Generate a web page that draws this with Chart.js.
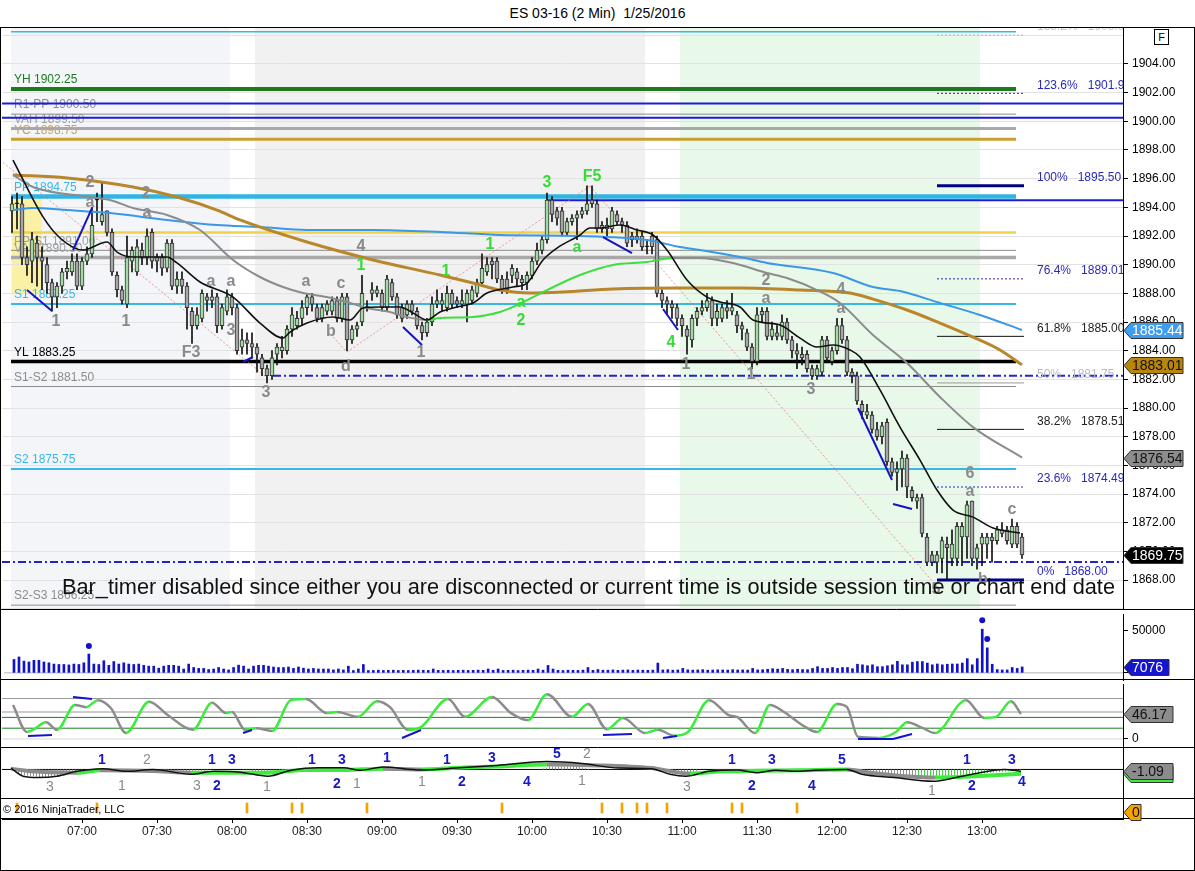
<!DOCTYPE html>
<html>
<head>
<meta charset="utf-8">
<title>ES 03-16 (2 Min) 1/25/2016</title>
<script src="https://cdn.jsdelivr.net/npm/chart.js"></script>
<style>
  body { margin: 0; background: #fff; font-family: Arial, "Liberation Sans", sans-serif; }
  #wrap { position: relative; width: 1195px; height: 871px; overflow: hidden; }
  #title { position: absolute; top: 5px; left: 0; width: 1195px; text-align: center; font-size: 14px; color: #000; }
  #frame { position: absolute; left: 0; top: 27px; width: 1193px; height: 842px; border: 1px solid #000; }
  #fbox { position: absolute; left: 1154px; top: 29px; width: 13px; height: 14px; border: 1px solid #000; font-size: 11px; text-align: center; line-height: 14px; background: #fff; }
  canvas { position: absolute; left: 0; }
</style>
</head>
<body>
<div id="wrap">
  <div id="title">ES 03-16 (2 Min)&nbsp; 1/25/2016</div>
  <div id="frame"></div>
  <canvas id="priceChart" width="1195" height="582" style="top:28px"></canvas>
  <canvas id="volChart" width="1195" height="74" style="top:610px"></canvas>
  <canvas id="oscChart" width="1195" height="64" style="top:684px"></canvas>
  <canvas id="macdChart" width="1195" height="51" style="top:748px"></canvas>
  <canvas id="stripChart" width="1195" height="71" style="top:799px"></canvas>
  <div id="fbox">F</div>
</div>

<script>
// 2-minute bars, times are minutes after midnight (first bar 06:32)
var firstBarMinute = 392;

var opens = [1893.75,1894.25,1894.25,1890.5,1890.25,1891.5,1890.5,1890,1888.75,1887.75,
  1888.5,1889.5,1889.5,1890.25,1888.5,1890.25,1890.75,1894.5,1893,1893.75,
  1892.25,1889.25,1888.25,1887.25,1890.25,1889.5,1891,1890.5,1892.25,1890.5,
  1890.5,1889.75,1891.5,1888.5,1889,1888.5,1886.75,1885.75,1886.25,1887.75,
  1887.5,1887.75,1885.75,1886.75,1887.75,1887,1884.25,1884.75,1884.5,1884.25,
  1883.5,1882.75,1882.25,1883.75,1884,1884,1885.5,1885.75,1886.25,1887,
  1887.75,1887,1886.25,1886.75,1886.75,1887.5,1886.25,1887.75,1884.75,1885.5,
  1886,1887,1888,1888,1888,1887,1888.75,1887.75,1887,1886.5,
  1887.25,1886.75,1885.75,1885.25,1886,1887.25,1887.25,1887,1888,1887.5,
  1887.25,1887.25,1887.5,1888,1888.75,1889.5,1890.25,1890.25,1889,1889,
  1889.25,1889.5,1889,1888.75,1889.25,1890.25,1891,1891.75,1894.5,1893.75,
  1893.75,1892.25,1893,1893.25,1893.5,1893.75,1894.5,1894.25,1892.75,1892.5,
  1892.5,1893.5,1893,1892.75,1892,1892,1892,1891.25,1892,1891.75,
  1888,1887.5,1887.25,1887,1886.25,1885.5,1884.75,1886.25,1886.75,1887,
  1887.5,1886.25,1886.25,1887,1886.75,1886.5,1885.75,1885.25,1884.25,1883.25,
  1886.75,1886.75,1885,1885.25,1885,1886,1884.75,1884,1883.75,1883.75,
  1882.75,1882.25,1882.5,1884.75,1883.25,1884,1885.75,1884.75,1882.5,1882.25,
  1880.25,1879.5,1879.5,1878.5,1878,1879,1876.25,1875.5,1875.75,1876.5,
  1874.25,1873.5,1873.75,1871,1869.75,1869.25,1869.5,1870.5,1869.5,1869.5,
  1871,1871,1873.5,1869.5,1870.5,1870.5,1871,1870.75,1871.25,1871.5,
  1870.5,1871.75,1871];
var highs = [1894.75,1895,1894.75,1891.25,1892.25,1892,1891.25,1890.5,1889,1888.75,
  1889.75,1890.25,1890.75,1890.75,1890.5,1891.25,1894,1895,1895.75,1893.75,
  1892.5,1889.5,1888.5,1892,1891.25,1891.75,1891.5,1892.5,1892.5,1890.75,
  1890.75,1891.75,1891.75,1889.5,1889.5,1888.75,1887,1887,1888.25,1888,
  1888.25,1888,1887.25,1888.25,1888,1887.25,1885.5,1885.25,1885.25,1884.5,
  1883.75,1883,1884,1884.5,1885,1885.75,1887,1886.75,1887.5,1888,
  1888,1887.25,1887.25,1887.5,1887.75,1887.75,1888,1888,1885.75,1886,
  1889.25,1887.5,1888.75,1888.5,1888.25,1889.25,1889,1888,1887.25,1887.5,
  1887.5,1887,1886,1886.25,1887.75,1888.25,1888,1888.5,1888.25,1887.75,
  1888.25,1888.25,1888.5,1889,1890.75,1890.5,1890.5,1890.5,1889.25,1889.5,
  1890,1889.75,1889.25,1889.5,1890.5,1891.5,1892,1895,1894.75,1894,
  1894,1893.25,1893.5,1893.75,1894,1895.5,1895.5,1894.5,1893,1893.25,
  1894,1893.75,1893.25,1893,1892.25,1892.5,1892.25,1891.75,1892.25,1892,
  1888.25,1887.75,1887.5,1887.25,1886.5,1885.75,1886.5,1887,1887.5,1888,
  1887.75,1887.25,1887.25,1887.5,1888,1886.75,1886,1885.5,1884.5,1887,
  1887,1887,1886,1885.75,1886.5,1886.25,1885,1884.5,1884.25,1884,
  1883,1883,1885,1885,1884.25,1886.25,1886.25,1885,1882.75,1882.5,
  1880.5,1880.25,1879.75,1879,1879,1879.25,1876.5,1876.25,1877,1876.75,
  1874.5,1874,1874,1871.25,1870,1870,1871,1871,1871.5,1872,
  1872,1873.5,1873.5,1870.5,1871.25,1871.25,1871.25,1871.75,1872,1871.75,
  1872.25,1872,1871.25];
var lows = [1892.25,1892.5,1890,1889.25,1888.75,1888.5,1888.25,1888,1886.75,1887,
  1888,1889,1889.25,1888.25,1888.25,1890,1890.5,1893,1892.75,1892,
  1889.25,1887.75,1887.25,1887,1889.5,1889.25,1890,1890,1889.75,1889.5,
  1889.25,1889.5,1888.25,1888,1888,1885.5,1884.5,1885.5,1886,1886.75,
  1887,1885.25,1885.5,1886.5,1886.5,1883.75,1883.75,1883.75,1883.5,1882.5,
  1882.25,1881.75,1882,1883,1883.5,1883.75,1885,1885.5,1885.75,1886.5,
  1886.75,1886,1886,1886.5,1886.5,1886,1886,1884,1884.5,1885,
  1885.75,1886.75,1887.5,1887.75,1886.75,1886.75,1887.5,1886.25,1886,1886.25,
  1886.5,1885.5,1884.75,1885,1885.75,1887,1886.75,1886.75,1887,1887,
  1887,1886,1887.25,1887.75,1888.5,1889.25,1889,1888.75,1888,1888,
  1888.75,1888.5,1888.25,1888.25,1889,1890,1890.75,1891.5,1893,1892.75,
  1892,1892,1892.75,1891.75,1893.25,1893.5,1894,1892.25,1892.25,1892,
  1892.25,1892.75,1892.25,1891.25,1891.25,1891.5,1891,1890.75,1890.75,1887.75,
  1887,1886.5,1886.25,1885.75,1885,1883.75,1884.25,1885.75,1886.5,1886.75,
  1885.75,1885.75,1886,1886.25,1886.5,1885.25,1884.75,1884,1882.75,1883,
  1886,1884.75,1884.75,1884.75,1884.75,1884.5,1883.5,1882.75,1883,1882.5,
  1882,1882,1882.25,1883.25,1883,1883.75,1884.5,1882.25,1881.75,1880.25,
  1879.25,1879.25,1878.25,1877.75,1877.5,1876,1875.25,1874.25,1874.5,1873.75,
  1873.5,1873,1871,1869,1869,1868.5,1868.5,1868,1869,1869,
  1869,1869.5,1869,1868.75,1869,1869.5,1869.25,1870.5,1871,1870.5,
  1870.25,1870.25,1869.5];
var closes = [1894.25,1894.25,1890.5,1890,1891.75,1890.5,1890.25,1888.75,1887.75,1888.5,
  1889.5,1889.75,1890.25,1888.5,1890.25,1890.75,1892.75,1894.5,1893.5,1892.25,
  1889.5,1888.25,1887.5,1890.5,1891,1891.25,1890.5,1892,1890.25,1890.25,
  1889.75,1891.5,1888.5,1889,1888.5,1887,1885.75,1886.5,1888,1887.5,
  1887.75,1885.75,1887,1887.75,1887,1884,1884.75,1884.5,1884.25,1883.75,
  1882.75,1882.25,1883.5,1884.25,1884.25,1885.5,1886.5,1886.25,1887,1887.75,
  1887.25,1886.25,1887,1887.25,1887.5,1886.25,1887.75,1884.75,1885.5,1885.75,
  1888,1887,1888.25,1888.25,1887,1889,1887.75,1886.5,1886.25,1887.25,
  1886.75,1885.75,1885.25,1886,1887.25,1887.5,1887.5,1888,1887.25,1887.25,
  1887.5,1888,1888.25,1888.75,1889.75,1890,1890,1889,1888.25,1888.25,
  1889.75,1889,1888.75,1889.25,1890.25,1891,1891.75,1894.5,1893.5,1893.25,
  1892.25,1893,1893.25,1893.5,1893.75,1894.25,1894.25,1892.5,1892.5,1892.75,
  1893.75,1893,1892.75,1891.5,1891.75,1891.75,1891.25,1891.25,1891.25,1888,
  1887.5,1887.25,1887,1886.25,1885.75,1885,1886.25,1886.75,1887,1887.5,
  1886.25,1886.75,1887,1886.75,1887,1885.75,1885.5,1884.25,1883.25,1886.5,
  1886.5,1885,1885.5,1885,1886,1884.75,1884,1883.75,1883.5,1882.75,
  1882.25,1882.75,1884.75,1883.5,1884,1885.75,1884.75,1882.5,1882.25,1880.5,
  1879.75,1879.75,1878.5,1878,1878.75,1876.25,1875.5,1875.75,1876.5,1874.5,
  1873.75,1873.75,1871.25,1869.25,1869.25,1869.75,1870.75,1870.25,1870.5,1871.75,
  1871.75,1873.25,1869.5,1870.25,1871,1871,1870.75,1871.5,1871.5,1870.75,
  1871.75,1870.5,1869.75];
var volumes = [16000,19000,14000,13000,15000,15000,13000,12000,10500,10000,10000,9500,10500,10000,12000,
  22500,
  10500,10000,14500,9000,13500,10500,12000,10500,10000,10500,9000,8000,8000,5600,8000,
  9000,9000,8000,4600,10500,6400,5300,5300,4000,4600,6400,4600,3500,6400,9200,
  8000,4600,8000,9000,9000,8000,7000,6400,6400,7000,5300,7000,5600,
  4600,5300,4600,4600,4600,3500,4600,3500,8000,2800,4600,10000,2800,
  2900,3200,2900,3000,3200,2900,3000,2800,3000,3300,
  3000,2900,4600,3000,2900,3100,2800,3000,3200,2900,
  3000,3300,3000,4600,3000,4600,2900,3000,3200,2800,
  3000,3300,3000,4600,3200,8900,4600,3000,2800,3200,
  3000,2900,3300,6400,3000,4000,3200,
  3200,3500,3000,3300,3500,3000,3400,3200,3000,3300,
  11700,
  3500,3800,3200,3500,5300,3600,3300,3500,3800,3200,3400,3600,3500,3300,3800,3400,3500,3300,
  5300,
  3500,3800,4300,5000,4500,5300,4200,3800,4300,4000,3800,
  5300,7400,5300,5300,6400,5300,6400,6400,5000,
  10300,9600,8500,9600,7400,7400,8500,9600,13800,9600,
  9600,12800,13500,13500,11700,9600,10600,9600,10300,10600,
  10600,11700,17000,9600,17000,52100,29800,10300,3900,3500,
  3500,6400,5300,7076];
var volDotTimes = [422, 780, 782];
var volDotValues = [32000, 62800, 40400];

// moving averages
var fastMaTimes = [392.4,404.4,411.2,420.4,430,434,440.4,454,458,467.2,480.4,491.2,500.4,503.2,510,520.4,527.2,532.4,539.2,547.2,
  552.4,558,563.2,570,576.4,582,592.4,598,604.4,610,619.2,623.2,627.2,635.2,642,648.4,654,662,670,675.2,
  683.2,688.4,699.2,707.2,714,720.4,727.2,731.2,739.2,747.2,755.2,762,768.4,776.4,784.4,795.2];
var fastMaValues = [1897.3,1893.33,1891.86,1891.02,1891.58,1890.88,1890.53,1890.53,1890.12,1888.79,1887.74,1885.93,1884.88,1885.3,1885.93,1886.35,1886.14,1886.98,1887.05,1887.05,
  1886.63,1886.14,1886.7,1887.05,1887.33,1888.02,1888.44,1888.72,1890.33,1891.16,1892.07,1892.56,1892.56,1892.77,1892.42,1892.07,1891.02,1888.93,1887.74,1887.4,
  1887.05,1886.14,1885.79,1884.88,1884.26,1884.4,1884.05,1883.56,1881.26,1878.67,1876.37,1874.28,1872.88,1872.39,1871.63,1871.28];
var midMaTimes = [392.4,400.4,423.2,431.2,440.4,454,467.2,480.4,491.2,500.4,508.4,518,527.2,534,543.2,550,558,563.2,576.4,587.2,
  592.4,606,619.2,632.4,646,656.4,667.2,680.4,694,702,714,723.2,736.4,750,763.2,776.4,796];
var midMaValues = [1896.26,1895.42,1894.72,1894.51,1893.95,1893.47,1892.42,1890.33,1889.14,1888.44,1888.02,1887.74,1887.33,1886.98,1886.7,1886.35,1886.14,1886.28,1886.35,1886.7,
  1887.05,1888.23,1889.28,1889.98,1890.19,1890.47,1890.47,1890.12,1889.42,1889.07,1888.23,1887.33,1885.09,1883.14,1880.77,1878.67,1876.54];
var blueMaTimes = [392.4,400.4,414,431.2,454,474,491.2,510,536.4,563.2,587.2,619.2,646,659.2,667.2,683.2,694,720.4,736.4,747.2,763.2,779.2,796];
var blueMaValues = [1893.81,1893.95,1893.81,1893.6,1893.12,1892.77,1892.63,1892.42,1892.42,1892.28,1892.07,1892.0,1891.72,1891.23,1891.02,1890.53,1890.12,1889.42,1888.44,1888.16,1887.33,1886.49,1885.44];
var goldMaTimes = [392.4,414,440.4,458,474,483.2,510,536.4,563.2,576.4,587.2,599.2,612.4,632.4,659.2,683.2,707.2,727.2,736.4,750,763.2,776.4,787.2,796];
var goldMaValues = [1896.26,1896.05,1895.42,1894.72,1893.81,1893.12,1891.58,1890.33,1889.28,1888.72,1888.23,1888.02,1888.09,1888.3,1888.37,1888.37,1888.23,1888.02,1887.6,1886.84,1885.93,1884.95,1884.05,1883.01];

// pivot levels
var pivotPrices = [1906.25,1902.25,1900.5,1899.5,1898.75,1894.75,1892.25,1891.0,1890.5,1887.25,1883.25,1881.5,1875.75,1866.25];
var pivotLabels = ['','YH 1902.25','R1-PP 1900.50','VAH 1899.50','YC 1898.75','PP 1894.75','','PP-S1 1891.00','VAL 1890.50','S1 1887.25','YL 1883.25','S1-S2 1881.50','S2 1875.75','S2-S3 1866.25'];
var blueLevelPrices = [1901.25, 1900.25, 1894.5];
var blueLevelStarts = [388, 388, 606];
var dashLevelPrices = [1882.25, 1869.25];
var dashLevelStarts = [496.4, 388];

// fibonacci retracement on the right
var fibPcts = ['138.2%','123.6%','100%','76.4%','61.8%','50%','38.2%','23.6%','0%'];
var fibPrices = [1906.01,1901.95,1895.5,1889.01,1885.0,1881.75,1878.51,1874.49,1868.0];
var fibTexts = ['1906.01','1901.95','1895.50','1889.01','1885.00','1881.75','1878.51','1874.49','1868.00'];

// session shading
var bandStarts = [391.6, 489.2, 659.2];
var bandEnds = [479.2, 645.2, 779.2];

// wave count labels
var waveTexts = ['2','a','2','a','1','1','a','a','F3','3','3','a','c','b','d','4','1','1','1','1','a','2','3','F5','a','4','1','1','2','a','3','4','a','6','a','c','b','5'];
var waveTimes = [423.2,423.2,445.6,446,409.6,437.6,471.6,479.6,463.6,479.6,493.6,509.6,523.6,519.6,525.6,531.6,531.6,555.6,565.6,583.2,
  595.6,595.6,606,624,618,655.6,661.6,687.6,693.6,693.6,711.6,723.6,723.6,775.2,775.2,792,780.4,761.6];
var wavePrices = [1895.7,1894.3,1894.93,1893.6,1886.0,1886.0,1888.79,1888.79,1883.84,1885.37,1881.05,1888.79,1888.65,1885.3,1882.86,1891.23,1889.91,1883.84,1889.49,1891.37,
  1887.33,1886.07,1895.7,1896.12,1891.16,1884.53,1883.0,1882.3,1888.86,1887.6,1881.26,1888.23,1886.91,1875.46,1874.14,1872.88,1868.0,1867.3];
var greenWaveIdx = [16,18,19,20,21,22,23,24,25];

// trend / divergence segments
var divTimes = [[398,408],[416.4,424],[484.4,488.4],[548.4,556],[628.4,640],[652.4,658.4],[730.4,744],[744.4,752]];
var divPrices = [[1888.23,1886.77],[1891.02,1893.95],[1883.21,1883.56],[1885.65,1884.4],[1891.93,1890.81],[1886.91,1885.44],[1880,1874.98],[1873.3,1872.95]];
var pinkTimes = [[387.2,495.2],[520.4,526],[526,623.2],[623.2,763.2]];
var pinkPrices = [[1897.3,1881.95],[1884.95,1883.91],[1883.91,1895.49],[1895.49,1867.3]];

// oscillator
var oscTimes = [392.4,398,400.4,405.6,410,417.2,421.6,426.4,431.6,437.6,446.8,454.4,464.4,472,477.6,480,485.2,489.6,496,503.6,
  509.6,518,522,530.4,538,543.2,550.4,555.6,566.4,573.2,584,591.6,598.4,606,616,622.4,630,636.4,645.2,650.4,
  656.8,662.4,670.8,678.8,682,689.2,695.2,700.8,708,714,722,726,730.4,738.4,745.6,750,756.4,761.2,773.6,780.8,
  785.6,791.6,795.6];
var oscValues = [63,13,17,31,17,63,59,72,57,11,69,44,17,67,48,50,17,20,15,72,
  74,48,50,41,70,59,17,22,74,41,78,48,35,83,41,65,18,39,11,17,
  6,13,72,44,41,11,63,50,26,13,65,59,4,2,13,31,20,11,72,39,
  41,70,46.17];
var oscLevels = [75, 50, 40, 20, 0];
var oscDivTimes = [[398.4,408],[416.4,424],[484.4,488],[548,555.6],[628.4,640],[652.4,658],[730.4,744.4],[744.4,752]];
var oscDivValues = [[5.6,7.4],[77.8,74],[11,16.7],[1.9,16.7],[7.4,9.3],[1.9,5.6],[0,0],[0,9.3]];

// macd
var macdTimes = [391.6,396.4,402.4,410,418,428.4,437.6,448.4,463.6,472.8,483.2,494.4,503.6,514.4,524.8,531.2,540.4,555.6,570.8,586,
  606,620,634.8,647.6,655.2,661.6,670.8,682,689.6,697.6,705.6,713.2,726,732,744.8,760.4,769.6,779.2,788.8,795.6];
var macdValues = [0.75,-3.75,-4.5,-3.75,-1.05,0.45,-1.05,0,-2.7,-1.05,-1.5,-3.75,-0.45,0.9,0.9,-0.45,1.35,-0.3,0.9,2.25,
  4.35,3.3,0.75,0.45,-2.7,-3.75,-1.05,-0.3,-1.8,-0.45,-1.05,-0.45,0,-2.7,-4.5,-6.6,-4.5,-1.8,0,-1.09];
var signalTimes = [391.6,399.6,418,427.2,448.4,463.6,494.4,509.6,524.8,540.4,555.6,570.8,586,606,626,647.6,663.2,675.2,691.2,707.2,726,735.2,761.2,779.2,795.6];
var signalValues = [0.45,-1.05,-1.8,-0.45,-0.9,-1.8,-1.8,-0.3,-0.3,0.45,0,0.9,1.65,2.7,2.25,0.75,-2.25,-1.2,-0.75,-0.45,0,-1.8,-4.5,-3.6,-2.4];
var histTimes = [391.6,395.2,403.2,411.2,417.2,421.2,451.2,457.2,467.2,473.2,483.2,489.2,497.2,503.2,603.2,607.2,619.2,623.2,647.2,655.2,
  663.2,667.2,727.2,735.2,747.2,753.2,761.2,771.2,783.2,793.2,795.6];
var histValues = [0,-3,-4.2,-3.75,-1.5,0,0,-0.9,-1.2,0,0,-1.2,-1.5,0,0,1.5,1.5,0,0,-2.25,
  -2.25,0,0,-2.25,-3.75,-4.1,-4.5,-3.75,-1.8,-0.75,-0.6];
var macdLabelTexts = ['1','2','3','1','3','2','1','3','1','1','3','2','1','1','1','1','2','3','4','5','2','1','3','1','2','3','4','5','1','1','2','3','4'];
var macdLabelTimes = [428,446,407.2,436,466,474,472,480,494,512,524,522,530,542,556,566,572,584,598,610,622,620,662,680,688,696,712,724,760,774,776,792,796];
var macdLabelValues = [5.2,5.2,-10,-9,-9,-9,5.2,5.2,-10,5.2,5.2,-8,-8,6.3,-7.3,5.2,-7.3,6.3,-7.3,8.4,8.4,-6.3,-10,5.2,-9,5.2,-9,5.2,-12.3,5.2,-9,5.2,-7.3];
var greyMacdIdx = [1,2,3,4,8,12,14,20,21,22,28];

// signal events strip
var eventTimes = [394,426,486,504,508,534,588,628,636,642,646,654,680,684,706];

// axis labels
var priceTickLabels = ['1868.00','1870.00','1872.00','1874.00','1876.00','1878.00','1880.00','1882.00','1884.00','1886.00',
  '1888.00','1890.00','1892.00','1894.00','1896.00','1898.00','1900.00','1902.00','1904.00'];
var timeTickMinutes = [420,450,480,510,540,570,600,630,660,690,720,750,780];
var timeTickLabels = ['07:00','07:30','08:00','08:30','09:00','09:30','10:00','10:30','11:00','11:30','12:00','12:30','13:00'];

// ---------------------------------------------------------------
var FONT = 'Arial, "Liberation Sans", sans-serif';
Chart.defaults.font.family = FONT;
Chart.defaults.font.size = 12;
Chart.defaults.color = '#000';

var xMin = 388, xMax = 836.4;
var barTimes = opens.map(function (_, i) { return firstBarMinute + 2 * i; });

function pts(times, values) {
  return times.map(function (t, i) { return { x: t, y: values[i] }; });
}
function hLine(t0, t1, v, color, width, dash, order) {
  return { type: 'line', data: [{ x: t0, y: v }, { x: t1, y: v }], borderColor: color, borderWidth: width,
    borderDash: dash || [], pointRadius: 0, fill: false, order: order };
}
function seg(t, v, color, width, dash, order) {
  return { type: 'line', data: [{ x: t[0], y: v[0] }, { x: t[1], y: v[1] }], borderColor: color, borderWidth: width,
    borderDash: dash || [], pointRadius: 0, fill: false, order: order };
}
function risingColor(up, down) {
  return function (ctx) { return ctx.p1.parsed.y >= ctx.p0.parsed.y ? up : down; };
}

function baseOptions(yOpts, xOpts) {
  var y = Object.assign({
    position: 'right',
    afterFit: function (s) { s.width = 72; s.paddingTop = 0; s.paddingBottom = 0; },
    border: { display: true, color: '#000', width: 1 },
    grid: { drawOnChartArea: false, tickLength: 5, tickColor: '#000' },
    ticks: { color: '#000', padding: 4, font: { size: 12 } }
  }, yOpts);
  return {
    responsive: false,
    animation: false,
    events: [],
    layout: { padding: { left: 2, right: 0, top: 0, bottom: 0 } },
    plugins: { legend: { display: false }, tooltip: { enabled: false } },
    scales: {
      x: Object.assign({ type: 'linear', min: xMin, max: xMax, offset: false, display: false }, xOpts || {}),
      y: y
    }
  };
}

function drawTag(chart, value, text, bg, fg, width) {
  var ctx = chart.ctx, a = chart.chartArea;
  var y = Math.round(chart.scales.y.getPixelForValue(value)) + 0.5;
  var x = a.right;
  var w = width || 60;
  ctx.save();
  ctx.beginPath();
  ctx.moveTo(x + 1, y);
  ctx.lineTo(x + 8, y - 8);
  ctx.lineTo(x + w, y - 8);
  ctx.lineTo(x + w, y + 8);
  ctx.lineTo(x + 8, y + 8);
  ctx.closePath();
  ctx.fillStyle = bg;
  ctx.fill();
  ctx.strokeStyle = '#333';
  ctx.lineWidth = 1;
  ctx.stroke();
  ctx.fillStyle = fg;
  ctx.font = '14px ' + FONT;
  ctx.textAlign = 'left';
  ctx.textBaseline = 'middle';
  ctx.fillText(text, x + 9, y + 1);
  ctx.restore();
}
function bottomRule(chart) {
  var ctx = chart.ctx, yb = chart.chartArea.bottom - 0.5;
  ctx.save();
  ctx.strokeStyle = '#000';
  ctx.lineWidth = 1;
  ctx.beginPath();
  ctx.moveTo(0, yb);
  ctx.lineTo(chart.width, yb);
  ctx.stroke();
  ctx.restore();
}

// ---------------- price panel ----------------
var priceDatasets = [];
var pivotColors = ['#3ab7e6','#1f7a1f','#8c8c8c','#a8a8a8','#c9a030','#2fb4e6','#f0d24a','#8c8c8c','#a9a9a9','#3ab7e6','#000000','#8c8c8c','#3ab7e6','#8c8c8c'];
var pivotWidths = [1.5, 4, 1, 3, 3, 4.5, 2.5, 1, 3.5, 2, 3.5, 1, 2, 1];
pivotPrices.forEach(function (p, i) {
  priceDatasets.push(hLine(391.6, 793.6, p, pivotColors[i], pivotWidths[i], null, 14));
});
blueLevelPrices.forEach(function (p, i) {
  priceDatasets.push(hLine(blueLevelStarts[i], xMax, p, '#1c1cd6', 2, null, 12));
});
dashLevelPrices.forEach(function (p, i) {
  priceDatasets.push(hLine(dashLevelStarts[i], xMax, p, '#2323c8', 2, [8, 3, 2, 3], 12));
});
var fibColors = ['#b0b0c8','#2a2ab8','#000080','#2a2ab8','#111','#9a9a9a','#111','#2a2ab8','#000080'];
var fibWidths = [1, 1, 3, 1, 1, 1, 1, 1, 3];
var fibDash = [[2, 2], [2, 2], null, [2, 2], null, null, null, [2, 2], null];
fibPrices.forEach(function (p, i) {
  priceDatasets.push(hLine(762, 796.8, p, fibColors[i], fibWidths[i], fibDash[i], 13));
});
pinkTimes.forEach(function (t, i) {
  priceDatasets.push(seg(t, pinkPrices[i], 'rgba(225,120,120,0.75)', 1, [2, 2], 9));
});
priceDatasets.push({
  type: 'bar', data: barTimes.map(function (t, i) { return { x: t, y: [lows[i], highs[i]] }; }),
  backgroundColor: '#111', barThickness: 1, grouped: false, order: 7
});
priceDatasets.push({
  type: 'bar', data: barTimes.map(function (t, i) { return { x: t, y: [opens[i], closes[i]] }; }),
  backgroundColor: closes.map(function (c, i) { return c > opens[i] ? '#a2dba2' : (c < opens[i] ? '#a6a6a6' : '#000'); }),
  borderColor: '#333', borderWidth: 1, borderSkipped: false, barThickness: 4, minBarLength: 1, grouped: false, order: 6
});
priceDatasets.push({ type: 'line', data: pts(goldMaTimes, goldMaValues), borderColor: '#b8862b', borderWidth: 3, pointRadius: 0, cubicInterpolationMode: 'monotone', order: 4 });
priceDatasets.push({ type: 'line', data: pts(blueMaTimes, blueMaValues), borderColor: '#3a98e6', borderWidth: 2, pointRadius: 0, cubicInterpolationMode: 'monotone', order: 4 });
priceDatasets.push({ type: 'line', data: pts(midMaTimes, midMaValues), borderColor: '#8c8c8c', borderWidth: 2, pointRadius: 0, cubicInterpolationMode: 'monotone', order: 3,
  segment: { borderColor: function (ctx) { return (ctx.p0.parsed.x >= 558 && ctx.p1.parsed.x <= 656.4) ? '#3ce03c' : '#8c8c8c'; } } });
priceDatasets.push({ type: 'line', data: pts(fastMaTimes, fastMaValues), borderColor: '#111', borderWidth: 1.6, pointRadius: 0, cubicInterpolationMode: 'monotone', order: 2 });
divTimes.forEach(function (t, i) {
  priceDatasets.push(seg(t, divPrices[i], '#1414c0', 2, null, 1));
});

var pivotLabelColors = ['#3ab7e6','#1f7a1f','#8c8c8c','#a0a0a0','#c8a068','#3ab7e6','#a0a0a0','#a0a0a0','#a0a0a0','#3ab7e6','#000','#8c8c8c','#3ab7e6','#8c8c8c'];
var fibLabelColors = ['#c4c4d4','#2a2ab8','#2a2ab8','#2a2ab8','#222','#b8b8cc','#222','#2a2ab8','#2a2ab8'];

var priceDecor = {
  id: 'priceDecor',
  beforeDraw: function (chart) {
    var ctx = chart.ctx, a = chart.chartArea, xs = chart.scales.x, ys = chart.scales.y;
    var bandColors = ['#f3f5f9', '#f1f1f1', '#e8f8e9'];
    ctx.save();
    bandStarts.forEach(function (t0, i) {
      var x0 = xs.getPixelForValue(t0), x1 = xs.getPixelForValue(bandEnds[i]);
      ctx.fillStyle = bandColors[i];
      ctx.fillRect(x0, a.top, x1 - x0, a.bottom - a.top);
    });
    var bx0 = xs.getPixelForValue(392), bx1 = xs.getPixelForValue(404);
    var by0 = ys.getPixelForValue(1894.7), by1 = ys.getPixelForValue(1888.0);
    ctx.fillStyle = 'rgba(255,236,110,0.6)';
    ctx.fillRect(bx0, by0, bx1 - bx0, by1 - by0);
    ctx.restore();
  },
  beforeDatasetsDraw: function (chart) {
    var ctx = chart.ctx, a = chart.chartArea, ys = chart.scales.y;
    ctx.save();
    ctx.font = '12px ' + FONT;
    ctx.textAlign = 'left';
    ctx.textBaseline = 'middle';
    pivotLabels.forEach(function (txt, i) {
      if (!txt) return;
      ctx.fillStyle = pivotLabelColors[i];
      ctx.fillText(txt, a.left + 12, ys.getPixelForValue(pivotPrices[i]) - 9);
    });
    ctx.restore();
  },
  afterDatasetsDraw: function (chart) {
    var ctx = chart.ctx, a = chart.chartArea, xs = chart.scales.x, ys = chart.scales.y;
    ctx.save();
    ctx.beginPath();
    ctx.rect(a.left, a.top, a.right - a.left, a.bottom - a.top);
    ctx.clip();
    ctx.textAlign = 'center';
    ctx.textBaseline = 'middle';
    waveTexts.forEach(function (txt, i) {
      ctx.font = 'bold 16px ' + FONT;
      ctx.fillStyle = greenWaveIdx.indexOf(i) >= 0 ? '#33dd33' : '#8a8a8a';
      ctx.fillText(txt, xs.getPixelForValue(waveTimes[i]), ys.getPixelForValue(wavePrices[i]));
    });
    ctx.font = '12px ' + FONT;
    ctx.textAlign = 'left';
    fibPcts.forEach(function (p, i) {
      ctx.fillStyle = fibLabelColors[i];
      ctx.fillText(p + '   ' + fibTexts[i], xs.getPixelForValue(802), ys.getPixelForValue(fibPrices[i]) - 8);
    });
    var msg = 'Bar_timer disabled since either you are disconnected or current time is outside session time or chart end date';
    ctx.font = '19px ' + FONT;
    var w = ctx.measureText(msg).width;
    ctx.font = (19 * 1053 / w).toFixed(2) + 'px ' + FONT;
    ctx.fillStyle = '#111';
    ctx.textBaseline = 'alphabetic';
    ctx.fillText(msg, a.left + 60, a.bottom - 16);
    ctx.restore();
  },
  afterDraw: function (chart) {
    bottomRule(chart);
    drawTag(chart, blueMaValues[blueMaValues.length - 1], blueMaValues[blueMaValues.length - 1].toFixed(2), '#3d9df0', '#fff');
    drawTag(chart, goldMaValues[goldMaValues.length - 1], goldMaValues[goldMaValues.length - 1].toFixed(2), '#b8860b', '#111');
    drawTag(chart, midMaValues[midMaValues.length - 1], midMaValues[midMaValues.length - 1].toFixed(2), '#8c8c8c', '#111');
    drawTag(chart, closes[closes.length - 1], closes[closes.length - 1].toFixed(2), '#000', '#fff');
  }
};

var priceOpts = baseOptions({
  min: 1865.91, max: 1906.51,
  afterBuildTicks: function (s) {
    var t = [];
    for (var v = 1866; v <= 1906; v++) t.push({ value: v });
    s.ticks = t;
  },
  grid: { drawOnChartArea: true, color: '#e2e2e2', tickLength: 5,
    tickColor: function (c) { return c.tick && c.tick.value % 2 === 0 && c.tick.value >= 1868 && c.tick.value <= 1904 ? '#000' : 'rgba(0,0,0,0)'; } },
  ticks: { color: '#000', padding: 4, font: { size: 12 },
    callback: function (v) { var k = priceTickLabels.indexOf(v.toFixed(2)); return k >= 0 ? priceTickLabels[k] : ''; } }
});
new Chart(document.getElementById('priceChart'), { type: 'bar', data: { datasets: priceDatasets }, options: priceOpts, plugins: [priceDecor] });

// ---------------- volume panel ----------------
new Chart(document.getElementById('volChart'), {
  type: 'bar',
  data: { datasets: [
    hLine(xMin, xMax, 0, '#b4b4b4', 1, null, 5),
    { type: 'bar', data: pts(barTimes, volumes), backgroundColor: '#1212c8', barThickness: 2, grouped: false, order: 2 },
    { type: 'line', data: pts(volDotTimes, volDotValues), showLine: false, pointRadius: 3, pointBackgroundColor: '#1212c8', pointBorderWidth: 0, order: 1 }
  ] },
  options: baseOptions({
    min: -8500, max: 70200,
    afterBuildTicks: function (s) { s.ticks = [{ value: 0 }, { value: 50000 }]; },
    ticks: { color: '#000', padding: 4, font: { size: 12 }, callback: function (v) { return String(v); } }
  }),
  plugins: [{ id: 'volDecor', afterDraw: function (chart) {
    bottomRule(chart);
    drawTag(chart, volumes[volumes.length - 1], String(volumes[volumes.length - 1]), '#1515d0', '#fff', 46);
  } }]
});

// ---------------- oscillator panel ----------------
var oscLevelColors = ['#999', '#999', '#1e7d1e', '#1e7d1e', '#d6d6d6'];
var oscDatasets = oscLevels.map(function (v, i) { return hLine(xMin, xMax, v, oscLevelColors[i], 1, null, 5); });
oscDatasets.push({ type: 'line', data: pts(oscTimes, oscValues), borderWidth: 2.5, pointRadius: 0, cubicInterpolationMode: 'monotone', order: 2,
  borderColor: '#8c8c8c', segment: { borderColor: risingColor('#3ceb3c', '#8c8c8c') } });
oscDivTimes.forEach(function (t, i) { oscDatasets.push(seg(t, oscDivValues[i], '#1414c8', 2, null, 1)); });
new Chart(document.getElementById('oscChart'), {
  type: 'line',
  data: { datasets: oscDatasets },
  options: baseOptions({
    min: -16.7, max: 101.9,
    afterBuildTicks: function (s) { s.ticks = [{ value: 0 }]; },
    ticks: { color: '#000', padding: 4, font: { size: 12 }, callback: function (v) { return String(v); } }
  }),
  plugins: [{ id: 'oscDecor', afterDraw: function (chart) {
    bottomRule(chart);
    drawTag(chart, oscValues[oscValues.length - 1], oscValues[oscValues.length - 1].toFixed(2), '#8c8c8c', '#111', 50);
  } }]
});

// ---------------- macd panel ----------------
function stripePattern(canvasId, color) {
  var tile = document.createElement('canvas');
  tile.width = 3; tile.height = 2;
  var g = tile.getContext('2d');
  g.fillStyle = color;
  g.fillRect(0, 0, 1, 2);
  return document.getElementById(canvasId).getContext('2d').createPattern(tile, 'repeat');
}
var histPts = pts(histTimes, histValues);
var macdDatasets = [
  hLine(xMin, xMax, 0, '#000', 1, null, 6),
  { type: 'line', data: histPts.filter(function (p) { return p.x <= 753.2; }), fill: 'origin', backgroundColor: stripePattern('macdChart', '#8c8c8c'), borderWidth: 0, pointRadius: 0, order: 5 },
  { type: 'line', data: histPts.filter(function (p) { return p.x >= 753.2; }), fill: 'origin', backgroundColor: stripePattern('macdChart', '#3cd83c'), borderWidth: 0, pointRadius: 0, order: 5 },
  { type: 'line', data: pts(signalTimes, signalValues), borderWidth: 4, pointRadius: 0, cubicInterpolationMode: 'monotone', order: 3,
    borderColor: '#8c8c8c', segment: { borderColor: risingColor('#3ceb3c', '#8c8c8c') } },
  { type: 'line', data: pts(macdTimes, macdValues), borderColor: '#111', borderWidth: 1.5, pointRadius: 0, cubicInterpolationMode: 'monotone', order: 2 }
];
new Chart(document.getElementById('macdChart'), {
  type: 'line',
  data: { datasets: macdDatasets },
  options: baseOptions({
    min: -16.4, max: 11.9,
    afterBuildTicks: function (s) { s.ticks = []; },
    grid: { display: false },
    ticks: { display: false }
  }),
  plugins: [{ id: 'macdDecor',
    afterDatasetsDraw: function (chart) {
      var ctx = chart.ctx, xs = chart.scales.x, ys = chart.scales.y;
      ctx.save();
      ctx.textAlign = 'center';
      ctx.textBaseline = 'middle';
      macdLabelTexts.forEach(function (txt, i) {
        var grey = greyMacdIdx.indexOf(i) >= 0;
        ctx.font = (grey ? '' : 'bold ') + '14px ' + FONT;
        ctx.fillStyle = grey ? '#8a8a8a' : '#1818c8';
        ctx.fillText(txt, xs.getPixelForValue(macdLabelTimes[i]), ys.getPixelForValue(macdLabelValues[i]));
      });
      ctx.restore();
    },
    afterDraw: function (chart) {
      bottomRule(chart);
      drawTag(chart, signalValues[signalValues.length - 1], '', '#3ceb3c', '#111', 50);
      drawTag(chart, macdValues[macdValues.length - 1], macdValues[macdValues.length - 1].toFixed(2), '#8c8c8c', '#111', 50);
    } }]
});

// ---------------- event strip + time axis ----------------
new Chart(document.getElementById('stripChart'), {
  type: 'bar',
  data: { datasets: [
    { type: 'bar', data: eventTimes.map(function (t) { return { x: t, y: [-0.1, 0.9] }; }), backgroundColor: '#f5a300', barThickness: 2, grouped: false }
  ] },
  options: baseOptions({
    min: -0.7, max: 1.3,
    afterBuildTicks: function (s) { s.ticks = []; },
    grid: { display: false },
    ticks: { display: false }
  }, {
    display: true,
    position: 'bottom',
    afterBuildTicks: function (s) { s.ticks = timeTickMinutes.map(function (v) { return { value: v }; }); },
    afterFit: function (s) { s.height = 51; s.paddingLeft = 0; s.paddingRight = 0; },
    border: { display: true, color: '#000' },
    grid: { offset: false, drawOnChartArea: false, tickLength: 4, color: '#000' },
    ticks: { autoSkip: false, maxRotation: 0, color: '#222', padding: 1, font: { size: 12 },
      callback: function (v, i) { return timeTickLabels[i]; } }
  }),
  plugins: [{ id: 'stripDecor', afterDraw: function (chart) {
    var ctx = chart.ctx, a = chart.chartArea;
    ctx.save();
    ctx.font = '11px ' + FONT;
    ctx.fillStyle = '#000';
    ctx.textAlign = 'left';
    ctx.textBaseline = 'alphabetic';
    ctx.fillText('\u00a9 2016 NinjaTrader, LLC', 3, a.top + 14);
    ctx.restore();
    bottomRule(chart);
    drawTag(chart, 0, '0', '#f5a300', '#111', 18);
  } }]
});
</script>
</body>
</html>
